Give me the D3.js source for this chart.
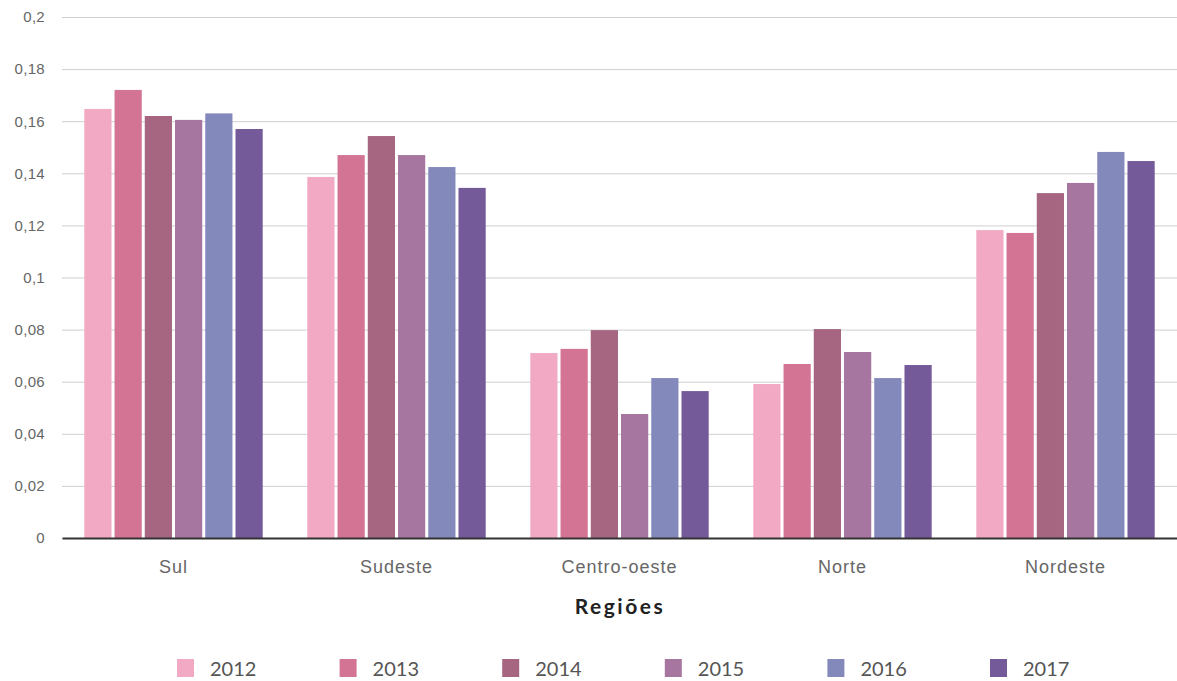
<!DOCTYPE html>
<html lang="pt">
<head>
<meta charset="utf-8">
<script src="https://cdn.jsdelivr.net/npm/d3@7"></script>
<style>
  html, body { margin: 0; padding: 0; background: #fff; }
  svg { display: block; font-family: Lato, "Noto Sans", sans-serif; }
</style>
</head>
<body>
<svg id="chart" width="1177" height="681"></svg>
<script>
// Regiões e anos
const regions = ["Sul", "Sudeste", "Centro-oeste", "Norte", "Nordeste"];
const years = ["2012", "2013", "2014", "2015", "2016", "2017"];

// Valores por ano (na ordem das regiões)
const v2012 = [0.1647, 0.1386, 0.0710, 0.0591, 0.1182];
const v2013 = [0.1720, 0.1470, 0.0726, 0.0668, 0.1171];
const v2014 = [0.1620, 0.1543, 0.0798, 0.0802, 0.1324];
const v2015 = [0.1605, 0.1470, 0.0476, 0.0714, 0.1363];
const v2016 = [0.1630, 0.1424, 0.0614, 0.0614, 0.1482];
const v2017 = [0.1570, 0.1344, 0.0564, 0.0664, 0.1447];

const yTicks = [0, 0.02, 0.04, 0.06, 0.08, 0.1, 0.12, 0.14, 0.16, 0.18, 0.2];
const colors = ["#f2aac4", "#d47494", "#a66682", "#a676a1", "#8489bc", "#745a99"];

const series = [v2012, v2013, v2014, v2015, v2016, v2017];

const svg = d3.select("#chart");
const margin = { top: 17, right: 0, bottom: 143, left: 62 };
const width = 1177 - margin.left - margin.right;
const height = 681 - margin.top - margin.bottom;

const g = svg.append("g").attr("transform", `translate(${margin.left},${margin.top})`);

const x0 = d3.scaleBand().domain(regions).range([0, width]).paddingInner(0.2).paddingOuter(0.1);
const x1 = d3.scaleBand().domain(years).range([0, x0.bandwidth()]).paddingInner(0.1);
const y = d3.scaleLinear().domain([0, 0.2]).range([height, 0]);
const color = d3.scaleOrdinal().domain(years).range(colors);

const fmt = d => d3.format(",")(d).replace(".", ",");

// Grade horizontal e rótulos do eixo Y
const yAxis = g.append("g")
  .call(d3.axisLeft(y).tickValues(yTicks).tickSize(-width).tickFormat(fmt).tickPadding(16));
yAxis.select(".domain").remove();
yAxis.selectAll(".tick line").attr("stroke", "#cfcfcf").attr("stroke-width", 1);
yAxis.selectAll(".tick text")
  .attr("fill", "#666").style("font-size", "15px").style("letter-spacing", "0.3px").attr("x", -17);

// Barras
const groups = g.selectAll(".region")
  .data(regions)
  .join("g")
  .attr("class", "region")
  .attr("transform", r => `translate(${x0(r)},0)`);

groups.selectAll("rect")
  .data((r, i) => years.map((yr, k) => ({ year: yr, value: series[k][i] })))
  .join("rect")
  .attr("x", d => x1(d.year))
  .attr("width", x1.bandwidth())
  .attr("y", d => y(d.value))
  .attr("height", d => y(0) - y(d.value))
  .attr("fill", d => color(d.year));

// Eixo X
const xAxis = g.append("g")
  .attr("transform", `translate(0,${height})`)
  .call(d3.axisBottom(x0).tickSize(0).tickPadding(22));
xAxis.select(".domain").attr("stroke", "#333").attr("stroke-width", 2);
xAxis.selectAll(".tick text")
  .attr("fill", "#666").style("font-size", "18px").style("letter-spacing", "1px");

// Título do eixo X
svg.append("text")
  .attr("x", 620)
  .attr("y", 614)
  .attr("text-anchor", "middle")
  .attr("fill", "#222")
  .style("font-size", "21px")
  .style("font-weight", "bold")
  .style("letter-spacing", "2.5px")
  .text("Regiões");

// Legenda
const legend = svg.append("g").attr("transform", "translate(177,659)");
const item = legend.selectAll("g")
  .data(years)
  .join("g")
  .attr("transform", (d, i) => `translate(${i * 162.6},0)`);
item.append("rect")
  .attr("width", 17).attr("height", 18)
  .attr("fill", d => color(d));
item.append("text")
  .attr("x", 33).attr("y", 17)
  .attr("fill", "#555")
  .style("font-size", "20px")
  .text(d => d);
</script>
</body>
</html>
